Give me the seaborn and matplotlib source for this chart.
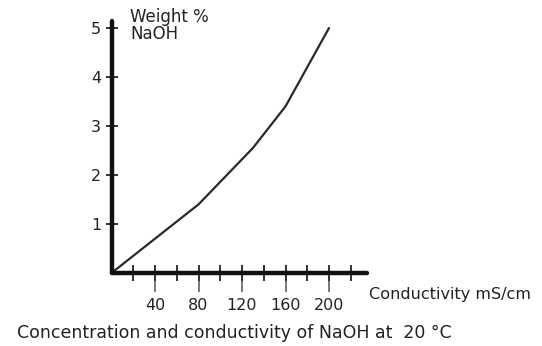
import matplotlib
matplotlib.use("Agg")
import matplotlib.pyplot as plt
import seaborn as sns
import pandas as pd
from matplotlib.ticker import FixedLocator

# data
conductivity = [0, 80, 130, 160, 200]          # mS/cm
weight_pct = [0, 1.4, 2.55, 3.4, 5.0]          # weight % NaOH
x_major_ticks = [40, 80, 120, 160, 200]
x_minor_ticks = [20, 40, 60, 80, 100, 120, 140, 160, 180, 200, 220]
y_ticks = [1, 2, 3, 4, 5]
y_label = "Weight %\nNaOH"
x_label = "Conductivity mS/cm"
title = "Concentration and conductivity of NaOH at  20 °C"

sns.set_style("white")
plt.rcParams["font.family"] = ["DejaVu Sans"]

W, H = 542, 346
fig = plt.figure(figsize=(W / 100, H / 100), dpi=100)

x0_px, y0_px = 111.5, 273.0
xmax, ymax = 235, 5.15
px_x, px_y = 1.0875, 49.0
left = x0_px / W
bottom = (H - y0_px) / H
width = xmax * px_x / W
height = ymax * px_y / H
ax = fig.add_axes([left, bottom, width, height])

df = pd.DataFrame({"cond": conductivity, "wt": weight_pct})
sns.lineplot(data=df, x="cond", y="wt", ax=ax, color="#2a2a2a", linewidth=1.6)

ax.set_xlim(0, xmax)
ax.set_ylim(0, ymax)
ax.set_xlabel("")
ax.set_ylabel("")

for s in ["top", "right"]:
    ax.spines[s].set_visible(False)
for s in ["left", "bottom"]:
    ax.spines[s].set_linewidth(3.2)
    ax.spines[s].set_color("#111111")
    ax.spines[s].set_capstyle("round")

ax.xaxis.remove_overlapping_locs = False
ax.xaxis.set_major_locator(FixedLocator(x_major_ticks))
ax.xaxis.set_minor_locator(FixedLocator(x_minor_ticks))
ax.set_xticklabels([str(v) for v in x_major_ticks])
ax.tick_params(axis="x", which="both", bottom=True, top=False)
ax.tick_params(axis="x", which="major", direction="out", length=14, width=1.4,
               color="#777777", labelsize=11.5, pad=4, labelcolor="#222222")
ax.tick_params(axis="x", which="minor", direction="inout", length=12, width=1.4,
               color="#333333")
ax.set_yticks(y_ticks)
ax.set_yticklabels([str(v) for v in y_ticks])
ax.tick_params(axis="y", which="major", left=True, right=False, direction="inout",
               length=9, width=1.4, color="#333333", labelsize=11.5, pad=3,
               labelcolor="#222222")

fig.text(130 / W, 1 - 8 / H, y_label, ha="left", va="top", fontsize=12,
         color="#222222", linespacing=0.9)
fig.text(369 / W, 1 - 294 / H, x_label, ha="left", va="center", fontsize=11.6,
         color="#222222")
fig.text(17 / W, 1 - 338 / H, title, ha="left", va="baseline", fontsize=12.5,
         color="#222222")

fig.savefig("out.png", dpi=100)
